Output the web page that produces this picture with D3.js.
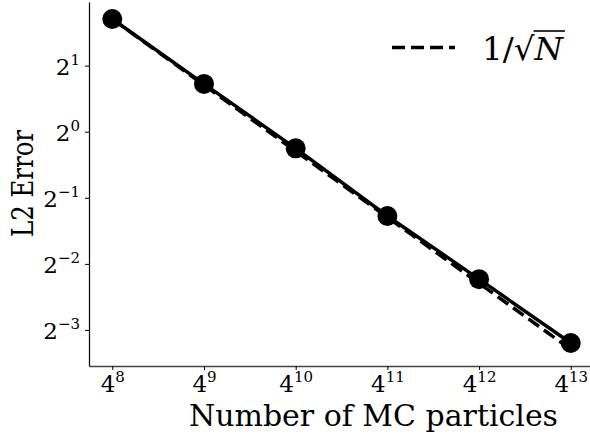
<!DOCTYPE html>
<html>
<head>
<meta charset="utf-8">
<script src="https://cdn.jsdelivr.net/npm/d3@7"></script>
<style>
  html, body { margin: 0; padding: 0; background: #fff; }
  svg { display: block; }
</style>
</head>
<body>
<svg id="chart" width="590" height="438"></svg>
<script>
// ---- data ----
const particles = [65536, 262144, 1048576, 4194304, 16777216, 67108864]; // 4^8 .. 4^13
const l2Error   = [3.26, 1.65, 0.84, 0.413, 0.213, 0.109];
const refLine   = [3.26, 1.63, 0.815, 0.4075, 0.204, 0.102];           // 1/sqrt(N), scaled
const xTickExp  = [8, 9, 10, 11, 12, 13];
const yTickExp  = [1, 0, -1, -2, -3];
const legendLabel = "1/√N";

(function () {
const FONT = "'DejaVu Serif', 'Liberation Serif', serif";
const svg = d3.select("#chart");
const padL = 89, padB = 366, padT = 2, padR = 593.7;

const x = d3.scaleLog().base(4)
  .domain([Math.pow(4, 7.746), Math.pow(4, 13.25)])
  .range([padL, padR]);
const y = d3.scaleLog().base(2)
  .domain([Math.pow(2, -3.545), Math.pow(2, 1.962)])
  .range([padB, padT]);

// ---- axes ----
const xAxis = d3.axisBottom(x)
  .tickValues(xTickExp.map(e => Math.pow(4, e)))
  .tickSize(4).tickSizeOuter(0).tickFormat(() => "");
const gx = svg.append("g").attr("transform", `translate(0,${padB})`).call(xAxis);
gx.select(".domain").attr("stroke", "#444").attr("stroke-width", 1.6);
gx.selectAll(".tick line").attr("stroke", "#000").attr("stroke-width", 1);
gx.selectAll(".tick text").remove();
gx.selectAll(".tick").each(function(d, i) {
  const t = d3.select(this).append("text")
    .attr("y", 26).attr("text-anchor", "middle")
    .style("font-family", FONT).style("font-size", "23px").attr("fill", "#000");
  t.append("tspan").text("4");
  t.append("tspan").attr("dy", -10).style("font-size", "15px").text(String(xTickExp[i]));
});

const yAxis = d3.axisLeft(y)
  .tickValues(yTickExp.map(e => Math.pow(2, e)))
  .tickSize(4).tickSizeOuter(0).tickFormat(() => "");
const gy = svg.append("g").attr("transform", `translate(${padL},0)`).call(yAxis);
gy.select(".domain").attr("stroke", "#000").attr("stroke-width", 1.2);
gy.selectAll(".tick line").attr("stroke", "#000").attr("stroke-width", 1);
gy.selectAll(".tick text").remove();
gy.selectAll(".tick").each(function(d, i) {
  const e = yTickExp[i];
  const t = d3.select(this).append("text")
    .attr("x", -9).attr("y", 9).attr("text-anchor", "end")
    .style("font-family", FONT).style("font-size", "23px").attr("fill", "#000");
  t.append("tspan").text("2");
  t.append("tspan").attr("dy", -10).style("font-size", "15px")
    .text(e < 0 ? "\u2212" + Math.abs(e) : String(e));
});

// axis labels
svg.append("text")
  .attr("x", 373.5).attr("y", 426)
  .attr("text-anchor", "middle")
  .attr("textLength", 369).attr("lengthAdjust", "spacingAndGlyphs")
  .style("font-family", FONT).style("font-size", "29px")
  .text("Number of MC particles");
svg.append("text")
  .attr("transform", `translate(33,183.5) rotate(-90)`)
  .attr("text-anchor", "middle")
  .attr("textLength", 107).attr("lengthAdjust", "spacingAndGlyphs")
  .style("font-family", FONT).style("font-size", "29px")
  .text("L2 Error");

// ---- lines ----
const line = d3.line().x(d => x(d[0])).y(d => y(d[1]));
const plot = svg.append("g");

plot.append("path")
  .datum(particles.map((n, i) => [n, l2Error[i]]))
  .attr("d", line).attr("fill", "none")
  .attr("stroke", "#000").attr("stroke-width", 3.5);

plot.append("path")
  .datum(particles.map((n, i) => [n, refLine[i]]))
  .attr("d", line).attr("fill", "none")
  .attr("stroke", "#000").attr("stroke-width", 3.5)
  .attr("stroke-dasharray", "13,6");

plot.selectAll("circle")
  .data(particles.map((n, i) => [n, l2Error[i]]))
  .join("circle")
  .attr("cx", d => x(d[0])).attr("cy", d => y(d[1]))
  .attr("r", 10).attr("fill", "#000");

// ---- legend ----
const lg = svg.append("g");
lg.append("line")
  .attr("x1", 392).attr("x2", 455).attr("y1", 47.5).attr("y2", 47.5)
  .attr("stroke", "#000").attr("stroke-width", 3.5)
  .attr("stroke-dasharray", "13,6");
const lt = lg.append("text").attr("x", 482).attr("y", 60)
  .attr("textLength", 81).attr("lengthAdjust", "spacingAndGlyphs")
  .style("font-family", FONT).style("font-size", "32px");
lt.append("tspan").text("1/\u221A");
const nSpan = lt.append("tspan").style("font-style", "italic").text("N");
const bb = lt.node().getBBox();
const nBox = nSpan.node().getExtentOfChar(0);
lg.append("line")
  .attr("x1", nBox.x - 1).attr("x2", 482 + 83)
  .attr("y1", 31).attr("y2", 31)
  .attr("stroke", "#000").attr("stroke-width", 1.6);
})();
</script>
</body>
</html>
